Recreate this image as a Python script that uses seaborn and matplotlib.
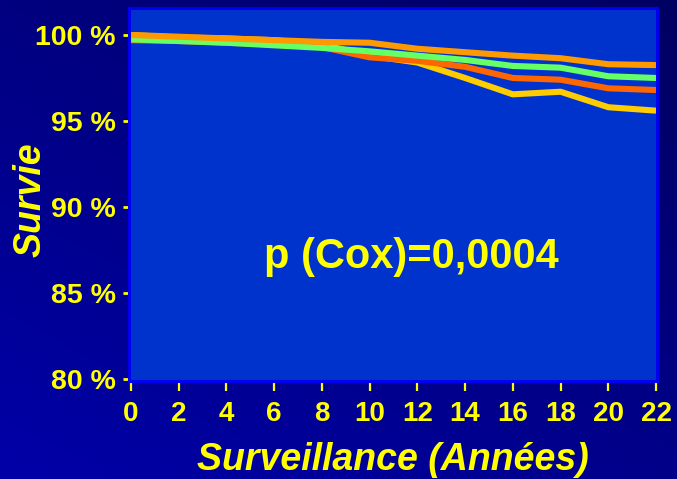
import numpy as np
import pandas as pd
import matplotlib
matplotlib.use("Agg")
import matplotlib.pyplot as plt
import seaborn as sns

# Survival curves (%) by follow-up year
years = [0, 2, 4, 6, 8, 10, 12, 14, 16, 18, 20, 22]
surv_yellow = [100.0, 99.85, 99.8, 99.7, 99.45, 98.8, 98.4, 97.5, 96.55, 96.7, 95.8, 95.6]
surv_red = [99.7, 99.65, 99.55, 99.45, 99.3, 98.7, 98.5, 98.15, 97.5, 97.4, 96.9, 96.8]
surv_green = [99.75, 99.65, 99.55, 99.4, 99.25, 99.05, 98.8, 98.55, 98.2, 98.1, 97.6, 97.5]
surv_orange = [100.0, 99.9, 99.8, 99.7, 99.6, 99.55, 99.2, 99.0, 98.8, 98.65, 98.3, 98.25]

groups = ["G4", "G3", "G2", "G1"]
colors = ["#FFCC00", "#FF6600", "#66FF66", "#FF9900"]
series = [surv_yellow, surv_red, surv_green, surv_orange]

y_ticks = [80, 85, 90, 95, 100]
y_ticklabels = ["80 %", "85 %", "90 %", "95 %", "100 %"]
x_ticks = list(range(0, 23, 2))

df = pd.DataFrame({
    "Années": np.tile(years, len(groups)),
    "Survie": np.concatenate(series),
    "Groupe": np.repeat(groups, len(years)),
})

sns.set_theme(style="white")
plt.rcParams["font.family"] = ["Liberation Sans", "DejaVu Sans"]

YEL = "#FFFF00"
fig = plt.figure(figsize=(6.77, 4.79), dpi=100)

# slide background with a soft blue gradient
bg = fig.add_axes([0, 0, 1, 1], zorder=-10)
gx, gy = np.meshgrid(np.linspace(0, 1, 200), np.linspace(0, 1, 200))
blue = 128 + 40 * gy - 30 * gx
img = np.zeros((200, 200, 3))
img[..., 2] = blue / 255.0
bg.imshow(img, aspect="auto", extent=[0, 1, 0, 1], origin="upper")
bg.set_axis_off()

ax = fig.add_axes([0.1905, 0.2046, 0.780, 0.7787])
ax.set_facecolor("#0033CC")

sns.lineplot(data=df, x="Années", y="Survie", hue="Groupe", hue_order=groups,
             palette=dict(zip(groups, colors)), linewidth=4.4, legend=False,
             ax=ax, solid_capstyle="butt")

ax.set_xlim(-0.08, 22.04)
ax.set_ylim(79.88, 101.57)
ax.set_xticks(x_ticks)
ax.set_xticklabels([str(t) for t in x_ticks])
ax.set_yticks(y_ticks)
ax.set_yticklabels(y_ticklabels)

for s in ax.spines.values():
    s.set_color("#0000EE")
    s.set_linewidth(2.2)

ax.tick_params(axis="x", bottom=True, direction="out", length=7.5, width=1.6,
               color=YEL, labelcolor=YEL, labelsize=20, pad=7)
ax.tick_params(axis="y", left=True, direction="out", length=4.5, width=2.0,
               color=YEL, labelcolor=YEL, labelsize=20.5, pad=5)
for lab in ax.get_xticklabels() + ax.get_yticklabels():
    lab.set_fontweight("bold")

ax.set_xlabel("Surveillance (Années)", color=YEL, fontsize=27,
              fontweight="bold", fontstyle="italic", labelpad=11)
ax.set_ylabel("Survie", color=YEL, fontsize=27,
              fontweight="bold", fontstyle="italic", labelpad=0)
ax.yaxis.set_label_coords(-0.153, 0.485)

ax.text(11.73, 86.45, "p (Cox)=0,0004", color=YEL, fontsize=30,
        fontweight="bold", ha="center", va="baseline")

fig.savefig("out.png", dpi=100)
